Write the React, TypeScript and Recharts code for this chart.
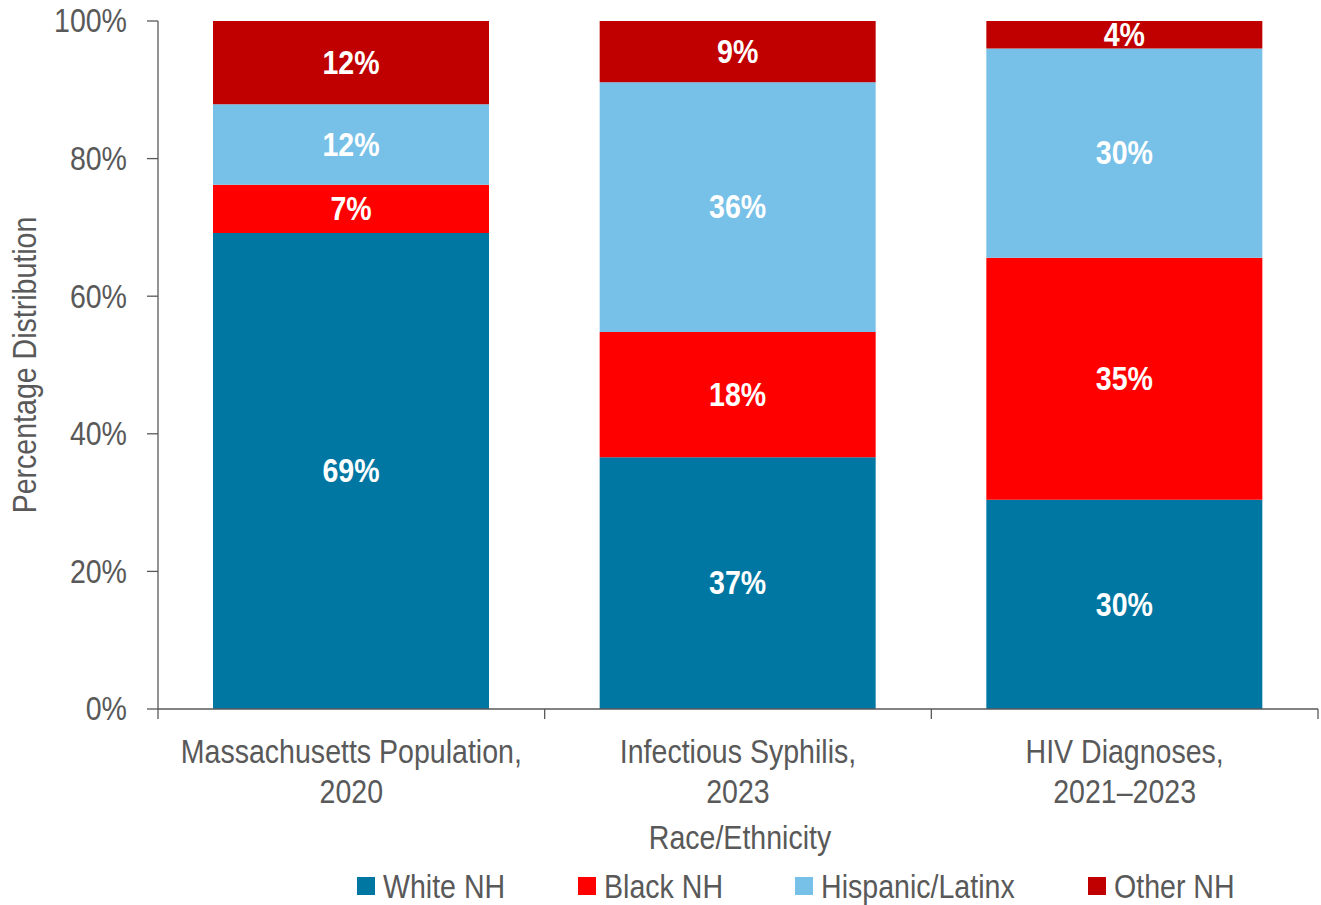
import { BarChart, Bar, XAxis, YAxis, Legend, LabelList } from 'recharts';

const categories = ['Massachusetts Population,|2020', 'Infectious Syphilis,|2023', 'HIV Diagnoses,|2021\u20132023'];
const whiteNH = [69.2, 36.6, 30.4];
const blackNH = [7.0, 18.2, 35.2];
const hispanic = [11.7, 36.3, 30.4];
const otherNH = [12.1, 8.9, 4.0];
const yTicks = [0, 20, 40, 60, 80, 100];

const series = [
  { key: 'white', name: 'White NH', color: '#0077A3' },
  { key: 'black', name: 'Black NH', color: '#FF0000' },
  { key: 'hisp', name: 'Hispanic/Latinx', color: '#77C1E8' },
  { key: 'other', name: 'Other NH', color: '#C00000' },
];

const data = categories.map((c, i) => ({
  name: c,
  white: whiteNH[i],
  black: blackNH[i],
  hisp: hispanic[i],
  other: otherNH[i],
}));

const FONT = "'Liberation Sans', Arial, sans-serif";
const GRAY = '#595959';
const SX = 0.84; // narrow-font look

// text squeezed horizontally around (x, y)
const Narrow = ({ x, y, children, anchor = 'middle', rotate = 0, ...rest }: any) => (
  <g transform={`translate(${x},${y}) rotate(${rotate}) scale(${SX},1)`}>
    <text x={0} y={0} textAnchor={anchor} dominantBaseline="central" fontFamily={FONT} fontSize={34} {...rest}>
      {children}
    </text>
  </g>
);

const CatTick = (props: any) => {
  const { x, y, payload, index } = props;
  const half = payload.offset || 193.3;
  const lines = String(payload.value).split('|');
  return (
    <g>
      <line x1={x - half} y1={y - 8} x2={x - half} y2={y + 2} stroke={GRAY} strokeWidth={1.3} />
      {index === categories.length - 1 && (
        <line x1={x + half} y1={y - 8} x2={x + half} y2={y + 2} stroke={GRAY} strokeWidth={1.3} />
      )}
      <Narrow x={x} y={y + 35} fill={GRAY}>{lines[0]}</Narrow>
      <Narrow x={x} y={y + 75} fill={GRAY}>{lines[1]}</Narrow>
    </g>
  );
};

const YTick = (props: any) => {
  const { x, y, payload } = props;
  return (
    <Narrow x={x} y={y} anchor="end" fill={GRAY}>
      {`${payload.value}%`}
    </Narrow>
  );
};

const BarLabel = (props: any) => {
  const { x, y, width, height, value } = props;
  return (
    <Narrow x={x + width / 2} y={y + height / 2} fill="#fff" fontWeight="bold">
      {`${Math.round(Number(value))}%`}
    </Narrow>
  );
};

const legendWidths = [221, 217, 293, 160];

const LegendContent = () => (
  <div style={{ display: 'flex', height: 38, alignItems: 'center', fontFamily: FONT, fontSize: 34, color: GRAY }}>
    {series.map((s, i) => (
      <div key={s.key} style={{ display: 'flex', alignItems: 'center', width: legendWidths[i], whiteSpace: 'nowrap' }}>
        <span style={{ display: 'inline-block', width: 18, height: 18, background: s.color, marginRight: 8, flex: 'none' }} />
        <span style={{ display: 'inline-block', transform: `scaleX(${SX})`, transformOrigin: 'left center' }}>{s.name}</span>
      </div>
    ))}
  </div>
);

export default function App() {
  return (
    <div style={{ position: 'absolute', left: 0, top: 0, background: '#fff' }}>
      <BarChart
        width={1321}
        height={905}
        data={data}
        margin={{ top: 21, right: 3, left: 0, bottom: 0 }}
        barSize={276}
      >
        <XAxis
          dataKey="name"
          height={158}
          tick={<CatTick />}
          tickLine={false}
          axisLine={{ stroke: GRAY, strokeWidth: 1.3 }}
          interval={0}
          label={{
            content: () => (
              <Narrow x={740} y={838} fill={GRAY}>Race/Ethnicity</Narrow>
            ),
          }}
        />
        <YAxis
          width={158}
          domain={[0, 100]}
          ticks={yTicks}
          tick={<YTick />}
          tickSize={11}
          tickMargin={20}
          tickLine={{ stroke: GRAY, strokeWidth: 1.3 }}
          axisLine={{ stroke: GRAY, strokeWidth: 1.3 }}
          label={{
            content: () => (
              <Narrow x={25} y={365} rotate={-90} fill={GRAY}>Percentage Distribution</Narrow>
            ),
          }}
        />
        <Legend
          verticalAlign="bottom"
          content={<LegendContent />}
          wrapperStyle={{ left: 357, width: 'auto', height: 38 }}
        />
        {series.map((s) => (
          <Bar key={s.key} dataKey={s.key} name={s.name} stackId="a" fill={s.color} isAnimationActive={false}>
            <LabelList dataKey={s.key} position="center" content={<BarLabel />} />
          </Bar>
        ))}
      </BarChart>
    </div>
  );
}
